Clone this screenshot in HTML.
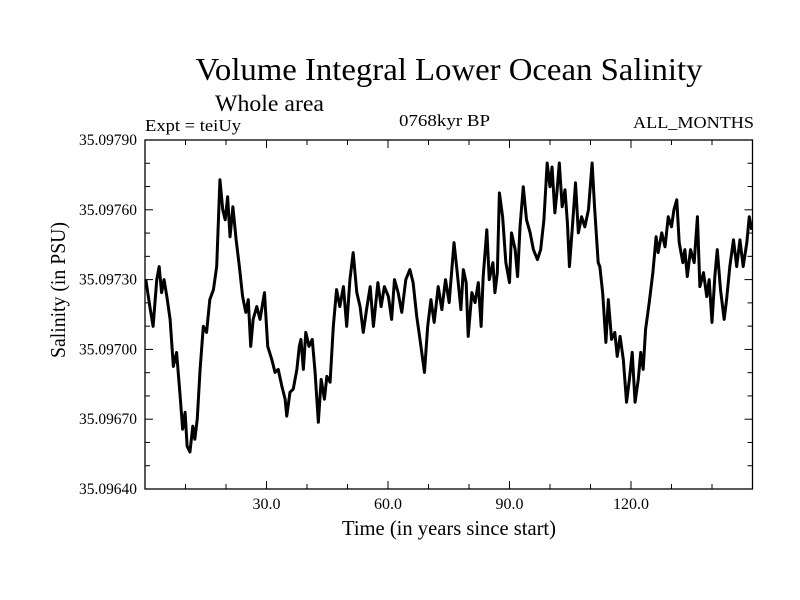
<!DOCTYPE html>
<html><head><meta charset="utf-8"><style>
html,body{margin:0;padding:0;background:#fff;}
svg{display:block;font-family:"Liberation Serif",serif;}
</style></head><body>
<svg id="chart" width="800" height="600" viewBox="0 0 800 600" xmlns="http://www.w3.org/2000/svg">
<rect width="800" height="600" fill="#fff"/>
<text x="449" y="80" font-size="32" text-anchor="middle" textLength="507" lengthAdjust="spacingAndGlyphs">Volume Integral Lower Ocean Salinity</text>
<text x="215" y="111" font-size="23" textLength="109" lengthAdjust="spacingAndGlyphs">Whole area</text>
<text x="145" y="131" font-size="17" textLength="96" lengthAdjust="spacingAndGlyphs">Expt = teiUy</text>
<text x="399" y="126" font-size="17" textLength="91" lengthAdjust="spacingAndGlyphs">0768kyr BP</text>
<text x="633" y="128" font-size="17" textLength="121" lengthAdjust="spacingAndGlyphs">ALL_MONTHS</text>
<text transform="translate(65,290) rotate(-90)" font-size="21" text-anchor="middle" textLength="136" lengthAdjust="spacingAndGlyphs">Salinity (in PSU)</text>
<text x="449" y="535" font-size="21" text-anchor="middle" textLength="214" lengthAdjust="spacingAndGlyphs">Time (in years since start)</text>
<g id="axes"></g>
<g id="series"></g>
<rect x="145" y="140" width="607.5" height="349" fill="none" stroke="#000" stroke-width="1.3"/>
</svg>
<script>
const years = [0.2,1.2,2.0,2.9,3.5,4.1,4.7,5.4,6.2,7.0,7.8,8.6,9.3,9.9,10.4,11.1,11.8,12.3,12.9,13.6,14.4,15.2,16.0,16.9,17.7,18.5,19.2,19.8,20.4,21.0,21.7,22.5,23.3,24.1,24.9,25.5,26.1,26.7,27.6,28.4,29.5,30.3,31.3,32.1,32.9,33.8,34.6,35.0,35.8,36.6,37.5,38.1,38.5,39.1,39.7,40.5,41.3,42.0,42.8,43.5,44.3,44.9,45.7,46.5,47.3,48.1,49.0,49.8,50.6,51.4,52.3,53.1,53.9,54.7,55.6,56.4,57.5,58.3,59.1,60.1,60.9,61.6,62.5,63.4,64.4,65.4,66.2,67.1,67.9,69.0,69.8,70.6,71.4,72.4,73.3,74.2,75.1,76.3,77.1,78.0,78.6,79.3,79.8,80.7,81.5,82.3,83.0,83.5,84.4,85.0,85.9,86.4,87.0,87.5,88.3,89.1,90.0,90.5,91.4,92.0,92.6,93.4,94.2,95.1,95.9,96.9,97.7,98.5,99.3,100.0,100.5,101.2,101.7,102.3,103.0,103.7,104.3,104.8,105.6,106.3,107.0,107.8,108.6,109.5,110.4,111.0,111.9,112.3,113.0,113.8,114.4,115.2,116.0,116.6,117.3,118.1,118.9,119.6,120.3,121.0,121.8,122.4,123.0,123.6,124.5,125.4,126.2,126.7,127.6,128.4,129.2,130.0,130.6,131.3,131.9,132.8,133.3,133.9,134.7,135.6,136.4,137.0,137.9,138.7,139.3,140.0,140.7,141.3,142.1,143.0,143.6,144.4,145.3,146.1,146.9,147.7,148.6,149.2,149.8];
const salinity = [35.097300,35.097184,35.097099,35.097300,35.097356,35.097244,35.097300,35.097227,35.097129,35.096927,35.096987,35.096816,35.096657,35.096730,35.096584,35.096559,35.096670,35.096614,35.096700,35.096914,35.097099,35.097073,35.097214,35.097257,35.097356,35.097729,35.097600,35.097557,35.097656,35.097484,35.097613,35.097471,35.097356,35.097227,35.097159,35.097214,35.097013,35.097129,35.097184,35.097129,35.097244,35.097013,35.096957,35.096901,35.096914,35.096841,35.096786,35.096713,35.096816,35.096829,35.096914,35.097013,35.097043,35.096914,35.097073,35.097013,35.097043,35.096901,35.096687,35.096871,35.096786,35.096884,35.096859,35.097099,35.097257,35.097184,35.097270,35.097099,35.097300,35.097416,35.097244,35.097184,35.097073,35.097171,35.097270,35.097099,35.097287,35.097184,35.097270,35.097227,35.097129,35.097300,35.097244,35.097159,35.097300,35.097343,35.097287,35.097141,35.097043,35.096901,35.097099,35.097214,35.097116,35.097270,35.097171,35.097300,35.097201,35.097459,35.097330,35.097171,35.097343,35.097287,35.097056,35.097244,35.097201,35.097287,35.097099,35.097313,35.097514,35.097300,35.097373,35.097244,35.097330,35.097673,35.097570,35.097373,35.097287,35.097501,35.097429,35.097313,35.097527,35.097699,35.097557,35.097501,35.097429,35.097386,35.097429,35.097557,35.097801,35.097699,35.097784,35.097587,35.097673,35.097801,35.097613,35.097686,35.097544,35.097356,35.097544,35.097716,35.097501,35.097570,35.097527,35.097600,35.097801,35.097613,35.097373,35.097356,35.097244,35.097030,35.097214,35.097043,35.097073,35.096970,35.097056,35.096957,35.096773,35.096871,35.096987,35.096773,35.096871,35.096987,35.096914,35.097086,35.097201,35.097330,35.097484,35.097416,35.097501,35.097441,35.097570,35.097527,35.097600,35.097643,35.097459,35.097373,35.097429,35.097313,35.097429,35.097373,35.097570,35.097270,35.097330,35.097227,35.097300,35.097116,35.097313,35.097429,35.097257,35.097129,35.097214,35.097356,35.097471,35.097356,35.097471,35.097356,35.097459,35.097570,35.097514];
const xTickLabels = ["30.0","60.0","90.0","120.0"];
const xTickValues = [30,60,90,120];
const yTickLabels = ["35.09790","35.09760","35.09730","35.09700","35.09670","35.09640"];
const yTickValues = [35.0979,35.0976,35.0973,35.0970,35.0967,35.0964];

const X0=145,X1=752.5,Y0=140,Y1=489;
const xMin=0,xMax=150,yMin=35.0964,yMax=35.0979;
function sx(v){return X0+(v-xMin)/(xMax-xMin)*(X1-X0);}
function sy(v){return Y1-(v-yMin)/(yMax-yMin)*(Y1-Y0);}
const NS="http://www.w3.org/2000/svg";
const axes=document.getElementById('axes');
function mk(tag,attrs,parent){const e=document.createElementNS(NS,tag);for(const k in attrs)e.setAttribute(k,attrs[k]);parent.appendChild(e);return e;}
for(let t=10;t<150;t+=10){
  const major=(t%30===0);const L=major?8:5;const x=sx(t);
  const a=mk('line',{x1:x,x2:x,y1:Y1,y2:Y1-L,stroke:'#000','stroke-width':1},axes);
  
  
  const b=mk('line',{x1:x,x2:x,y1:Y0,y2:Y0+L,stroke:'#000','stroke-width':1},axes);
  
  
}
xTickValues.forEach((v,i)=>{
  const t=mk('text',{x:sx(v),y:509,'font-size':16,'text-anchor':'middle'},axes);
  t.textContent=xTickLabels[i];
  
  
});
for(let k=1;k<15;k++){
  const v=yMin+k*0.0001;const major=(k%3===0);const L=major?8:5;const y=sy(v);
  const a=mk('line',{x1:X0,x2:X0+L,y1:y,y2:y,stroke:'#000','stroke-width':1},axes);
  
  
  const b=mk('line',{x1:X1,x2:X1-L,y1:y,y2:y,stroke:'#000','stroke-width':1},axes);
  
  
}
yTickValues.forEach((v,i)=>{
  const t=mk('text',{x:137,y:sy(v)+5,'font-size':16,'text-anchor':'end',textLength:58,lengthAdjust:'spacingAndGlyphs'},axes);
  t.textContent=yTickLabels[i];
  
  
});
const d=years.map((yr,i)=>(i?'L':'M')+sx(yr).toFixed(2)+','+sy(salinity[i]).toFixed(2)).join(' ');
const p=mk('path',{d:d,fill:'none',stroke:'#000','stroke-width':3,'stroke-linejoin':'round'},document.getElementById('series'));


</script>
</body></html>
